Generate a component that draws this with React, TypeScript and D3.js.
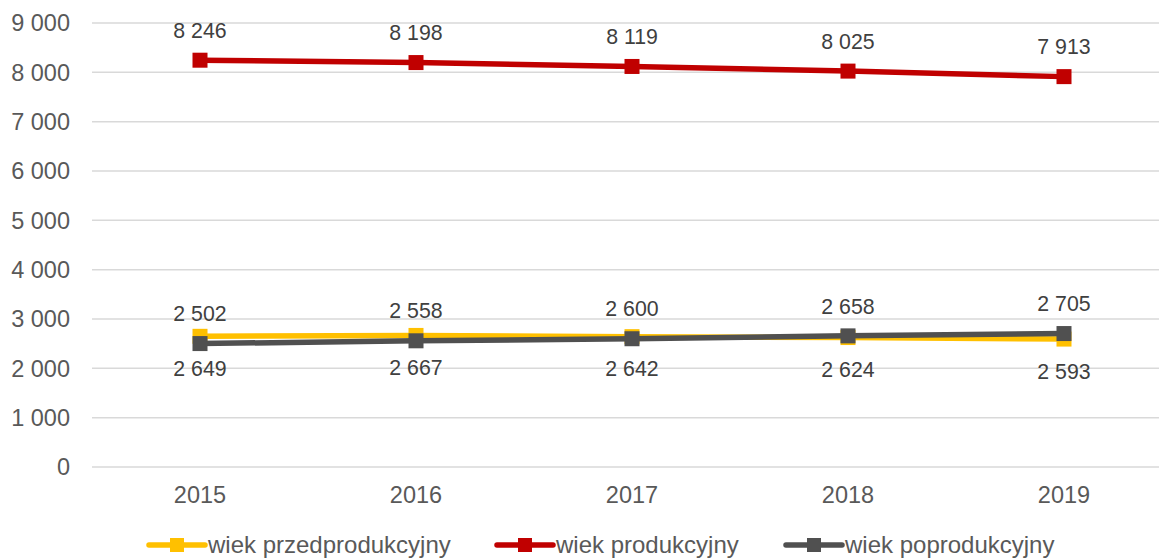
import React from "react";
import * as d3 from "d3";

const years = ["2015", "2016", "2017", "2018", "2019"];
const przedprodukcyjny = [2649, 2667, 2642, 2624, 2593];
const produkcyjny = [8246, 8198, 8119, 8025, 7913];
const poprodukcyjny = [2502, 2558, 2600, 2658, 2705];
const yTicks = [0, 1000, 2000, 3000, 4000, 5000, 6000, 7000, 8000, 9000];

const W = 1159;
const H = 559;
const FONT = "'Liberation Sans', Arial, sans-serif";

// series in draw order (grey ends up on top of yellow)
const series = [
  { name: "wiek przedprodukcyjny", values: przedprodukcyjny, color: "#FFC000", labelPos: "below" },
  { name: "wiek produkcyjny", values: produkcyjny, color: "#C00000", labelPos: "above" },
  { name: "wiek poprodukcyjny", values: poprodukcyjny, color: "#505050", labelPos: "above" },
];

const legendX = [149, 497, 786];

const fmt = (v: number) => d3.format(",")(v).replace(/,/g, " ");

export default function App() {
  const x = d3.scaleBand<string>().domain(years).range([92, 1172]);
  const y = d3.scaleLinear().domain([0, 9000]).range([467, 23]);
  const cx = (yr: string) => (x(yr) as number) + x.bandwidth() / 2;
  const line = d3
    .line<number>()
    .x((_, i) => cx(years[i]))
    .y((d) => y(d));

  return (
    <svg
      width={W}
      height={H}
      style={{ position: "absolute", left: 0, top: 0, background: "#fff" }}
      fontFamily={FONT}
    >
      <g>
        {yTicks.map((t) => (
          <g key={t}>
            <line x1={92} x2={W} y1={y(t)} y2={y(t)} stroke="#d9d9d9" strokeWidth={1.5} />
            <text x={70} y={y(t)} dy="0.36em" textAnchor="end" fontSize={23.5} fill="#595959">
              {fmt(t)}
            </text>
          </g>
        ))}
      </g>
      <g>
        {years.map((yr) => (
          <text key={yr} x={cx(yr)} y={495} dy="0.36em" textAnchor="middle" fontSize={23.5} fill="#595959">
            {yr}
          </text>
        ))}
      </g>
      {series.map((s) => (
        <g key={s.name}>
          <path d={line(s.values) || ""} fill="none" stroke={s.color} strokeWidth={5.5} />
          {s.values.map((v, i) => (
            <rect key={i} x={cx(years[i]) - 7.5} y={y(v) - 7.5} width={15} height={15} fill={s.color} />
          ))}
        </g>
      ))}
      {series.map((s) => (
        <g key={s.name + "-labels"}>
          {s.values.map((v, i) => (
            <text
              key={i}
              x={cx(years[i])}
              y={y(v) + (s.labelPos === "above" ? -30 : 32)}
              dy="0.36em"
              textAnchor="middle"
              fontSize={21.3}
              fill="#404040"
            >
              {fmt(v)}
            </text>
          ))}
        </g>
      ))}
      <g>
        {series.map((s, i) => (
          <g key={s.name + "-legend"} transform={`translate(${legendX[i]},545)`}>
            <line x1={0} x2={56} y1={0} y2={0} stroke={s.color} strokeWidth={5.5} strokeLinecap="round" />
            <rect x={21} y={-7} width={14} height={14} fill={s.color} />
            <text x={59} y={0} dy="0.33em" fontSize={24} fill="#595959">
              {s.name}
            </text>
          </g>
        ))}
      </g>
    </svg>
  );
}
